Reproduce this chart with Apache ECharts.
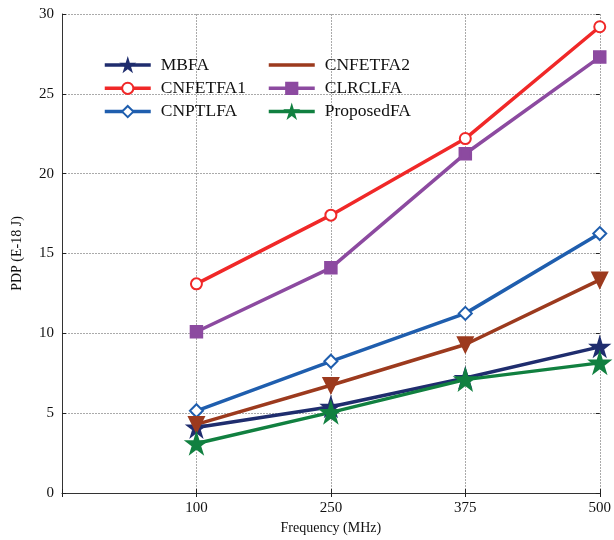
<!DOCTYPE html>
<html><head><meta charset="utf-8">
<script src="https://cdn.jsdelivr.net/npm/echarts@6/dist/echarts.min.js"></script>
<style>html,body{margin:0;padding:0;background:#fff}#c{width:614px;height:540px}</style>
</head><body><div id="c"></div>
<script>
const categories = ['', '100', '250', '375', '500'];
const MBFA = [4.1, 5.4, 7.2, 9.15];
const CNFETFA1 = [13.1, 17.4, 22.2, 29.2];
const CNPTLFA = [5.15, 8.25, 11.25, 16.25];
const CNFETFA2 = [4.3, 6.75, 9.3, 13.35];
const CLRCLFA = [10.1, 14.1, 21.25, 27.3];
const ProposedFA = [3.1, 5.05, 7.1, 8.15];
const yTicks = [0, 5, 10, 15, 20, 25, 30];

const STAR = 'path://M50,0 L61,35 L98,35 L68,57 L79,91 L50,70 L21,91 L32,57 L2,35 L39,35 Z';
const LINE_ICON = 'path://M0,0 L0.01,0 L0.01,0.01 Z M0,5.2 L46,5.2 L46,8.8 L0,8.8 Z M0,14 L0.01,14 L0.01,13.99 Z';
const FONT = 'Liberation Serif';

function mk(name, data, color, symbol, size, extra) {
  return Object.assign({
    name, type: 'line', data: [null].concat(data),
    symbol, symbolSize: size, connectNulls: false,
    lineStyle: { color, width: 3.5 },
    itemStyle: { color, borderColor: color, borderWidth: 2.5 },
    color, z: 3
  }, extra || {});
}

const series = [
  mk('MBFA', MBFA, '#1f2d6e', STAR, 16),
  mk('CNFETFA1', CNFETFA1, '#f02828', 'emptyCircle', 11, {itemStyle:{color:'#f02828', borderColor:'#f02828', borderWidth:3}}),
  mk('CNPTLFA', CNPTLFA, '#1f5eae', 'emptyDiamond', 13, {itemStyle:{color:'#1f5eae', borderColor:'#1f5eae', borderWidth:3}}),
  mk('CNFETFA2', CNFETFA2, '#9c3a1e', 'triangle', 14, {symbolRotate: 180}),
  mk('CLRCLFA', CLRCLFA, '#8c4aa0', 'rect', 11),
  mk('ProposedFA', ProposedFA, '#118040', STAR, 18)
];

const legendText = { fontFamily: FONT, fontSize: 17.5, color: '#111', padding: [0, 0, 0, 5] };
const legendLine = { width: 3.5 };
const option = {
  animation: false,
  backgroundColor: '#fff',
  grid: { left: 62, right: 12, top: 14, bottom: 47 },
  legend: [
    { data: ['MBFA', 'CNFETFA1', 'CNPTLFA'], orient: 'vertical', left: 98, top: 51,
      itemWidth: 46, itemHeight: 14, itemGap: 5.3, textStyle: legendText, lineStyle: legendLine },
    { data: [{ name: 'CNFETFA2', icon: LINE_ICON, itemStyle: { color: '#9c3a1e', borderWidth: 0 } }, 'CLRCLFA', 'ProposedFA'],
      orient: 'vertical', left: 262, top: 51,
      itemWidth: 46, itemHeight: 14, itemGap: 5.3, textStyle: legendText, lineStyle: legendLine }
  ],
  xAxis: [{
    type: 'category', data: categories, boundaryGap: false,
    name: 'Frequency (MHz)', nameLocation: 'middle', nameGap: 26,
    nameTextStyle: { fontFamily: FONT, fontSize: 14, color: '#111' },
    axisLine: { lineStyle: { color: '#333', width: 1 } },
    axisTick: { inside: true, length: 4, lineStyle: { color: '#222' } },
    axisLabel: { fontFamily: FONT, fontSize: 15, color: '#111', margin: 8 },
    splitLine: { show: true, lineStyle: { color: '#aaa', type: [2, 1], width: 1 } }
  }, {
    type: 'category', data: categories, boundaryGap: false, position: 'top',
    axisLine: { show: false },
    axisTick: { inside: true, length: 4, lineStyle: { color: '#222' } },
    axisLabel: { show: false }
  }],
  yAxis: [{
    type: 'value', min: yTicks[0], max: yTicks[yTicks.length - 1], interval: 5,
    name: 'PDP (E-18 J)', nameLocation: 'middle', nameGap: 38,
    nameTextStyle: { fontFamily: FONT, fontSize: 14, color: '#111' },
    axisLine: { show: true, lineStyle: { color: '#333', width: 1 } },
    axisTick: { show: true, inside: true, length: 4, lineStyle: { color: '#222' } },
    axisLabel: { fontFamily: FONT, fontSize: 15, color: '#111', margin: 8 },
    splitLine: { show: true, lineStyle: { color: '#aaa', type: [2, 1], width: 1 } }
  }, {
    type: 'value', min: yTicks[0], max: yTicks[yTicks.length - 1], interval: 5, position: 'right',
    axisLine: { show: false },
    axisTick: { show: true, inside: true, length: 4, lineStyle: { color: '#222' } },
    axisLabel: { show: false }, splitLine: { show: false }
  }],
  series
};
const chart = echarts.init(document.getElementById('c'), null, { renderer: 'canvas' });
chart.setOption(option);
</script></body></html>
